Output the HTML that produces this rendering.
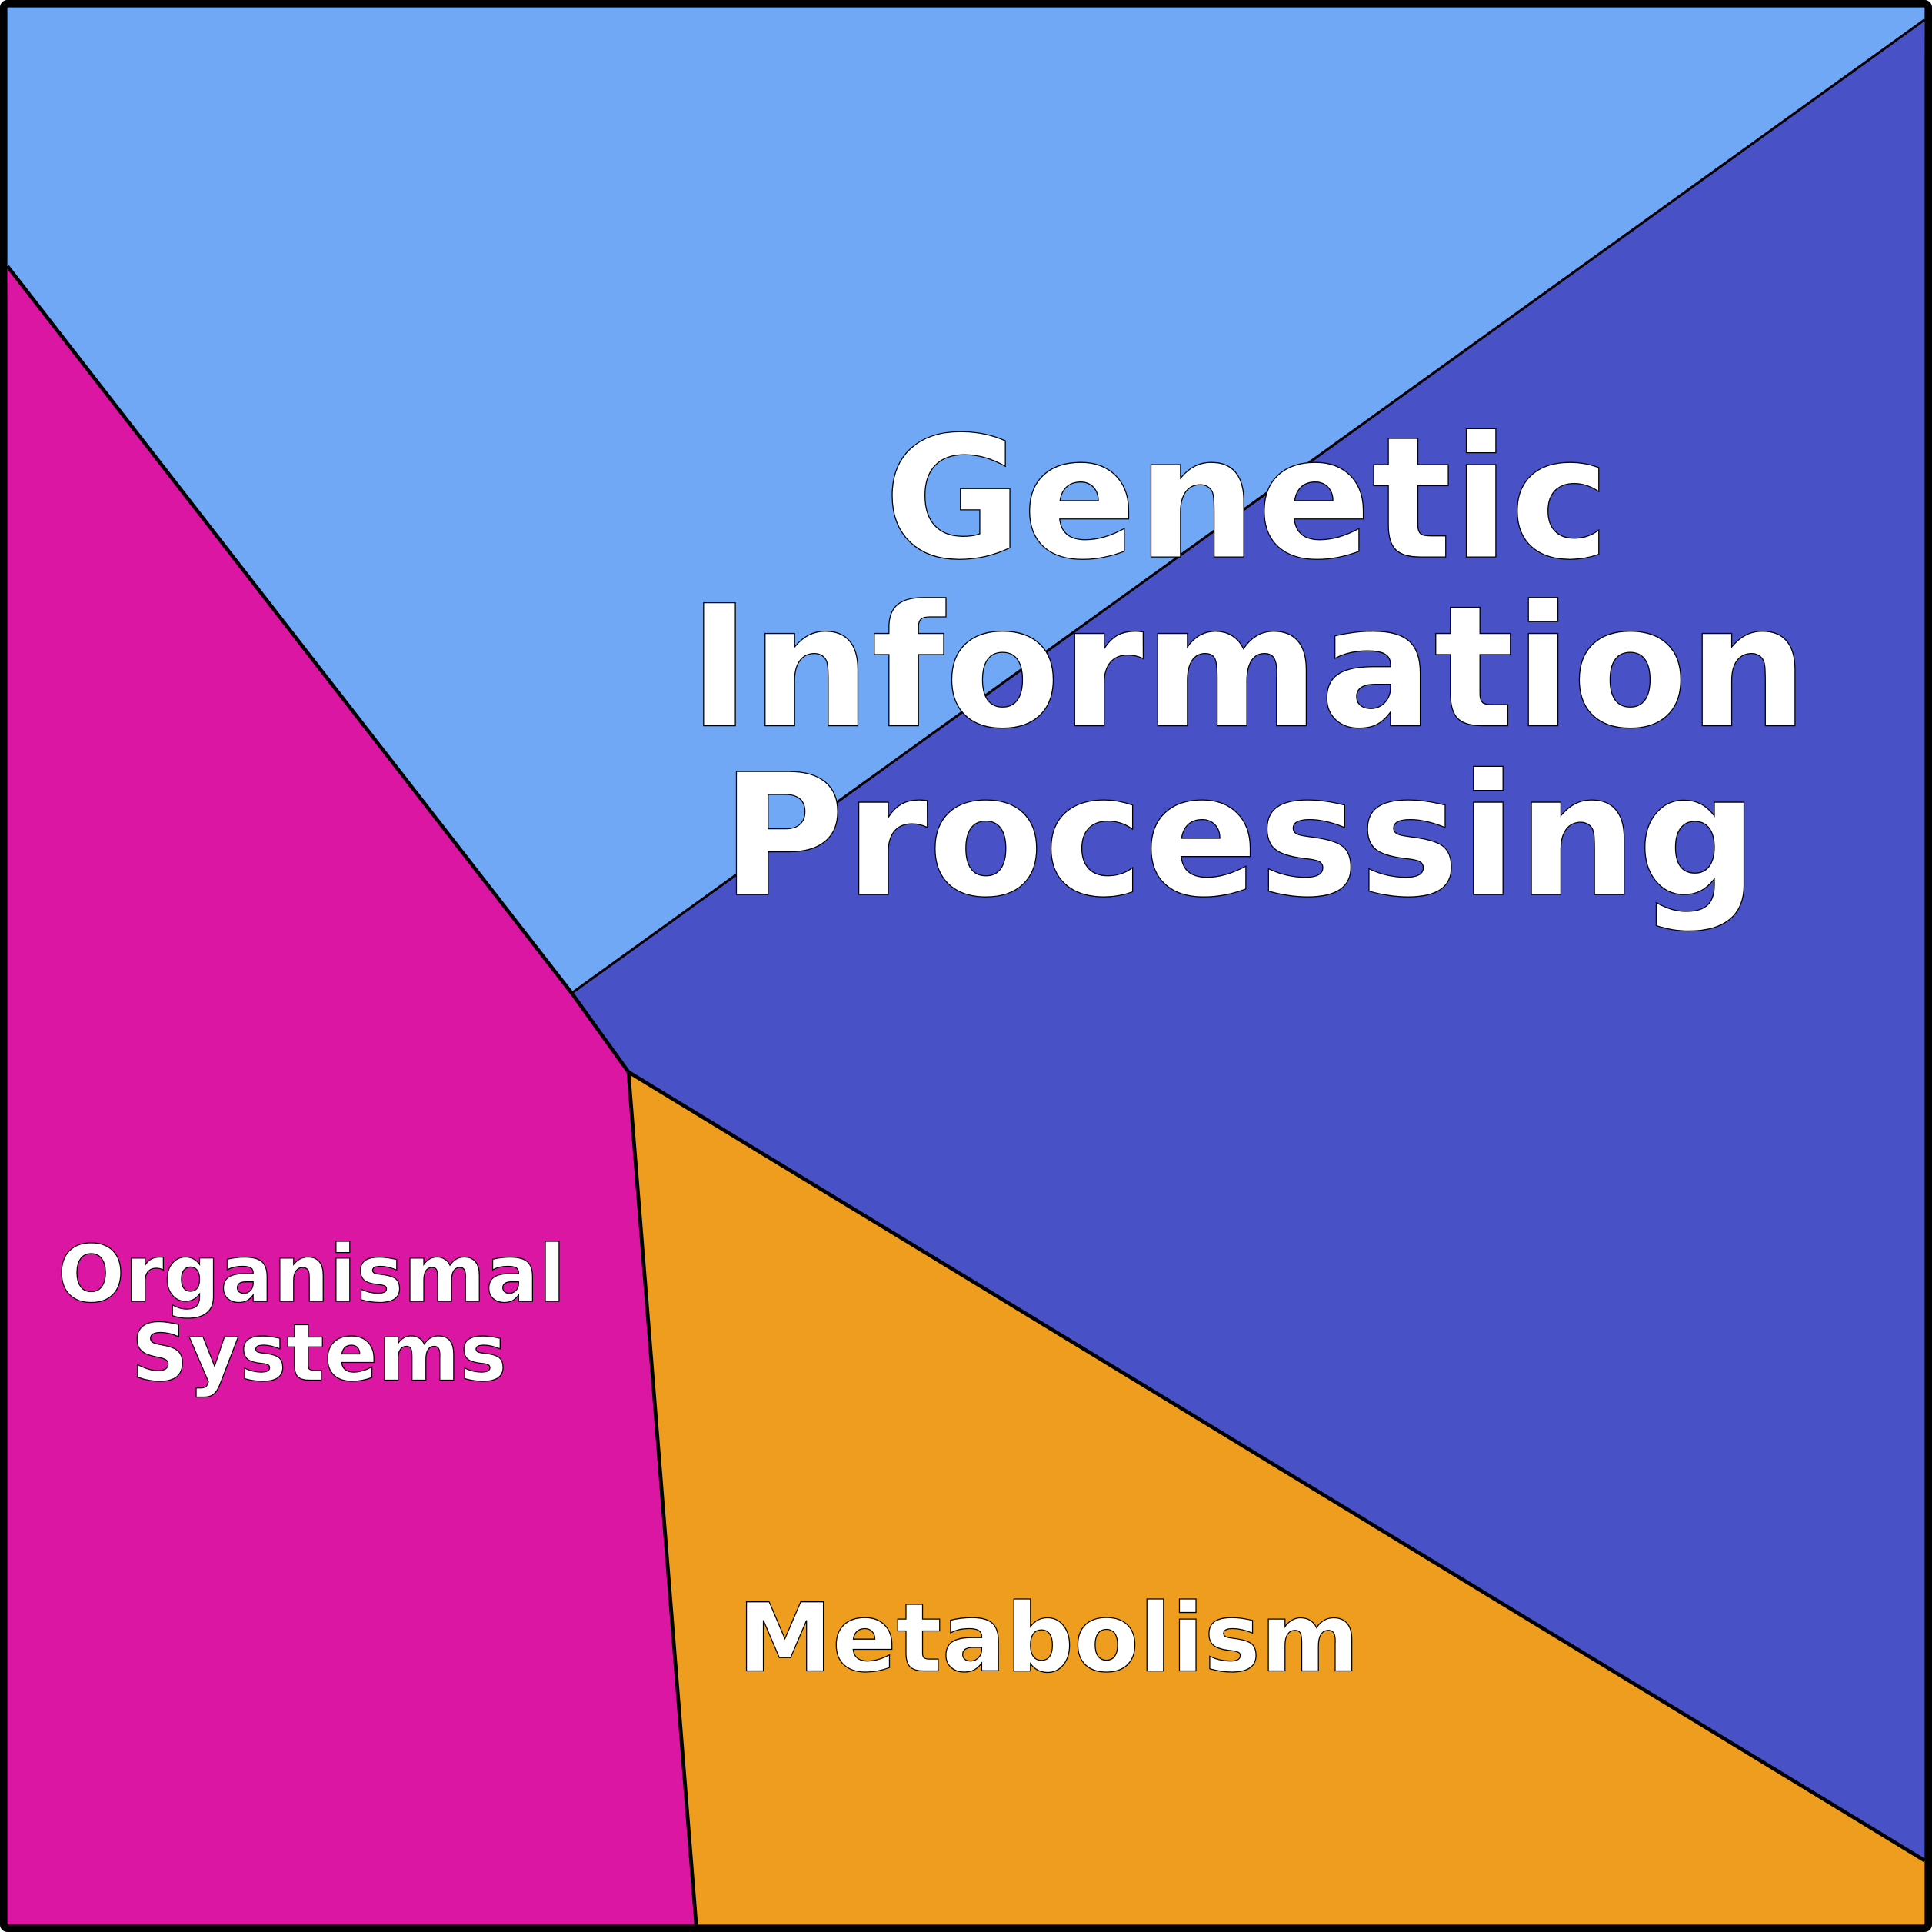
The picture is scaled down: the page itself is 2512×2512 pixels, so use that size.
<!DOCTYPE html>
<html><head><meta charset="utf-8"><style>html,body{margin:0;padding:0;background:#fff}svg{display:block}</style></head>
<body>
<svg width="2512" height="2512" viewBox="0 0 1568 1568" preserveAspectRatio="none" xmlns="http://www.w3.org/2000/svg">
<polygon points="4,4 1564,4 1562,16 464,806 6,216" fill="#71a8f5"/>
<polygon points="1562,16 1564,1510 510,870 464,806" fill="#4951c6"/>
<polygon points="6,216 464,806 510,870 565,1564 4,1564" fill="#db16a3"/>
<polygon points="510,870 1564,1510 1564,1564 565,1564" fill="#ee9d1f"/>
<polyline points="6,216 464,806 510,870 565,1562" fill="none" stroke="#000" stroke-width="3"/>
<line x1="464" y1="806" x2="1562" y2="16" stroke="#000" stroke-width="2"/>
<line x1="510" y1="870" x2="1562" y2="1510" stroke="#000" stroke-width="3"/>
<rect x="3" y="3" width="1562" height="1562" fill="none" stroke="#000" stroke-width="6" rx="3"/>
<g font-family="'DejaVu Sans','Liberation Sans',sans-serif" font-weight="bold" fill="#fff" stroke="#000" stroke-width="0.8" text-anchor="middle">
<text x="1012" y="452" font-size="137">Genetic</text>
<text x="1013" y="589" font-size="137">Information</text>
<text x="1006" y="726" font-size="137">Processing</text>
<text x="253" y="1056" font-size="64">Organismal</text>
<text x="259" y="1120" font-size="64">Systems</text>
<text x="851" y="1356" font-size="77">Metabolism</text>
</g>
</svg>
</body></html>
